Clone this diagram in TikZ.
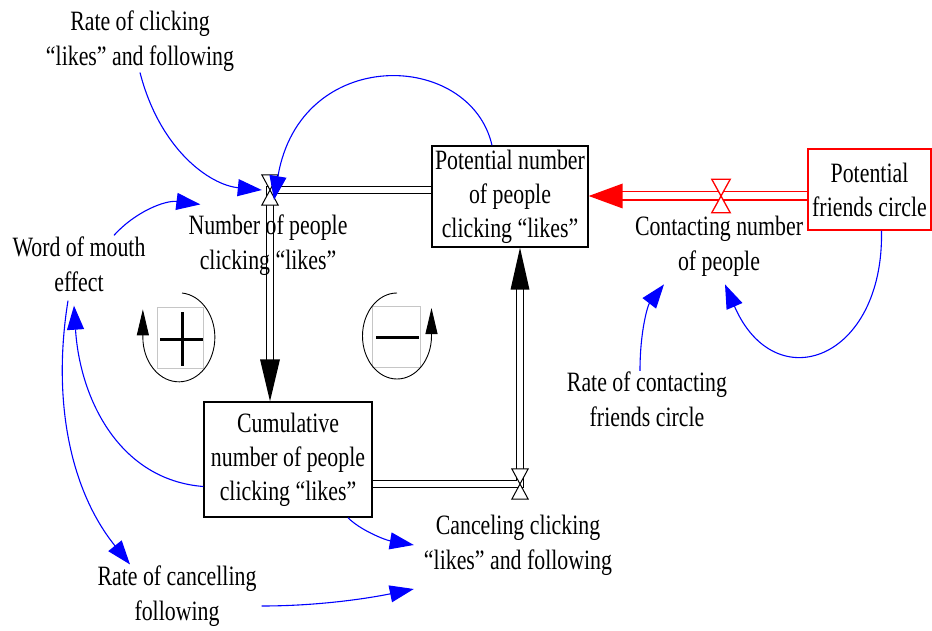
\documentclass[tikz,border=0pt]{standalone}
\usepackage{fontspec}
\setmainfont[FakeStretch=0.78]{Liberation Serif}
\usetikzlibrary{arrows.meta,calc}
\pgfdeclarelayer{background}
\pgfsetlayers{background,main}

\begin{document}
\begin{tikzpicture}[x=1pt,y=-1pt,
  lbl/.style={font=\fontsize{28}{35}\selectfont, align=center, inner sep=1pt},
  stock/.style={draw=black, line width=1.4pt, fill=white, align=center,
    inner sep=0pt, font=\fontsize{28}{34}\selectfont},
  valvept/.style={minimum width=16pt, minimum height=30pt, inner sep=0pt},
  valveshape/.style={draw=black, fill=white, line width=1pt},
  pipe/.style={draw=black, line width=1.5pt, double=white, double distance=5.5pt},
  redpipe/.style={draw=red, line width=1.8pt, double=white, double distance=7pt},
  link/.style={draw=blue, line width=1.1pt, -{Triangle[length=24pt,width=17pt]}},
  loopline/.style={draw=black, line width=0.9pt, -{Triangle[length=26pt,width=12pt]}},
]
\useasboundingbox (0,0) rectangle (932,631);

% stocks
\node[stock, minimum width=156pt, minimum height=101pt] (pot) at (510,196.5)
  {Potential number\\of people\\clicking “likes”};
\node[stock, draw=red, minimum width=123pt, minimum height=81pt] (fr) at (869.5,189.5)
  {Potential\\friends circle};
\node[stock, minimum width=168pt, minimum height=115pt] (cum) at (288,459.5)
  {Cumulative\\number of people\\clicking “likes”};

% valve positions
\node[valvept] (v1) at (270,190) {};
\node[valvept] (v2) at (520,484) {};
\node[valvept, minimum width=18pt, minimum height=33pt] (v3) at (721,196) {};

% flow pipes
\begin{pgfonlayer}{background}
  \draw[pipe] (pot.west |- v1) -- (v1.center) -- ($(v1 |- cum.north)+(0,-40)$);
  \draw[pipe] (cum.east |- v2) -- (v2.center) -- ($(v2 |- pot.south)+(0,40)$);
  \draw[redpipe] (fr.west |- v3) -- ($(pot.east |- v3)+(32,0)$);
\end{pgfonlayer}

% pipe arrowheads
\fill (v1 |- cum.north) -- ($(v1 |- cum.north)+(-10,-42)$) -- ($(v1 |- cum.north)+(10,-42)$) -- cycle;
\fill (v2 |- pot.south) -- ($(v2 |- pot.south)+(-9.5,42)$) -- ($(v2 |- pot.south)+(9.5,42)$) -- cycle;
\fill[red] (pot.east |- v3) -- ($(pot.east |- v3)+(34,-12.5)$) -- ($(pot.east |- v3)+(34,12.5)$) -- cycle;

% valves
\draw[valveshape] (v1.north west) -- (v1.north east) -- (v1.south west) -- (v1.south east) -- cycle;
\draw[valveshape] (v2.north west) -- (v2.north east) -- (v2.south west) -- (v2.south east) -- cycle;
\draw[valveshape, draw=red, line width=1.3pt] (v3.north west) -- (v3.north east) -- (v3.south west) -- (v3.south east) -- cycle;

% labels
\node[lbl] (rc) at (140,41) {Rate of clicking\\“likes” and following};
\node[lbl] (nl) at (268,245) {Number of people\\clicking “likes”};
\node[lbl] (cn) at (719,246) {Contacting number\\of people};
\node[lbl] (wom) at (79,264) {Word of mouth\\effect};
\node[lbl] (rcf) at (647,399.5) {Rate of contacting\\friends circle};
\node[lbl] (cc) at (518,545) {Canceling clicking\\“likes” and following};
\node[lbl] (rcan) at (177,596) {Rate of cancelling\\following};

% loop polarity markers
\draw[gray!45, line width=0.9pt] (157,307) rectangle (203,368);
\draw[line width=3pt] (160,339) -- (203,339);
\draw[line width=3pt] (182,312) -- (182,366);
\draw[loopline] (182,293) arc[start angle=-85, end angle=180, x radius=36, y radius=44.5] -- ++(0,-28);

\draw[gray!45, line width=0.9pt] (372,306) rectangle (420,367);
\draw[line width=3pt] (376,337) -- (419,337);
\draw[loopline] (397,293) arc[start angle=-90, end angle=-360, x radius=34.5, y radius=43] -- ++(0,-28);

% information links
\draw[link] (rc.south) .. controls (160,150) and (210,185) .. (v1.west);
\draw[link] ([xshift=-18pt]pot.north) .. controls (470,50) and (300,45) .. ([shift={(4pt,-10pt)}]v1.center);
\draw[link] ([xshift=35pt]wom.north) .. controls (135,212) and (165,200) .. ([shift={(13pt,9pt)}]nl.north west);
\draw[link] ([yshift=-27pt]cum.west) .. controls (120,480) and (80,400) .. ([shift={(-5pt,-13pt)}]wom.south);
\draw[link] ([shift={(-11pt,-8pt)}]wom.south) .. controls (52,400) and (70,490) .. ([xshift=-47pt]rcan.north);
\draw[link] ([xshift=60pt]cum.south) .. controls (360,530) and (385,540) .. ([xshift=-9pt]cc.west);
\draw[link] ([shift={(4pt,-10pt)}]rcan.east) .. controls (320,606) and (370,598) .. ([shift={(-9pt,-44pt)}]cc.west);
\draw[link] ([xshift=-7pt]rcf.north) .. controls (640,330) and (648,305) .. ([shift={(-55pt,-7pt)}]cn.south);
\draw[link] ([xshift=12pt]fr.south) .. controls (884,360) and (775,400) .. ([shift={(6pt,-7pt)}]cn.south);
\end{tikzpicture}
\end{document}
